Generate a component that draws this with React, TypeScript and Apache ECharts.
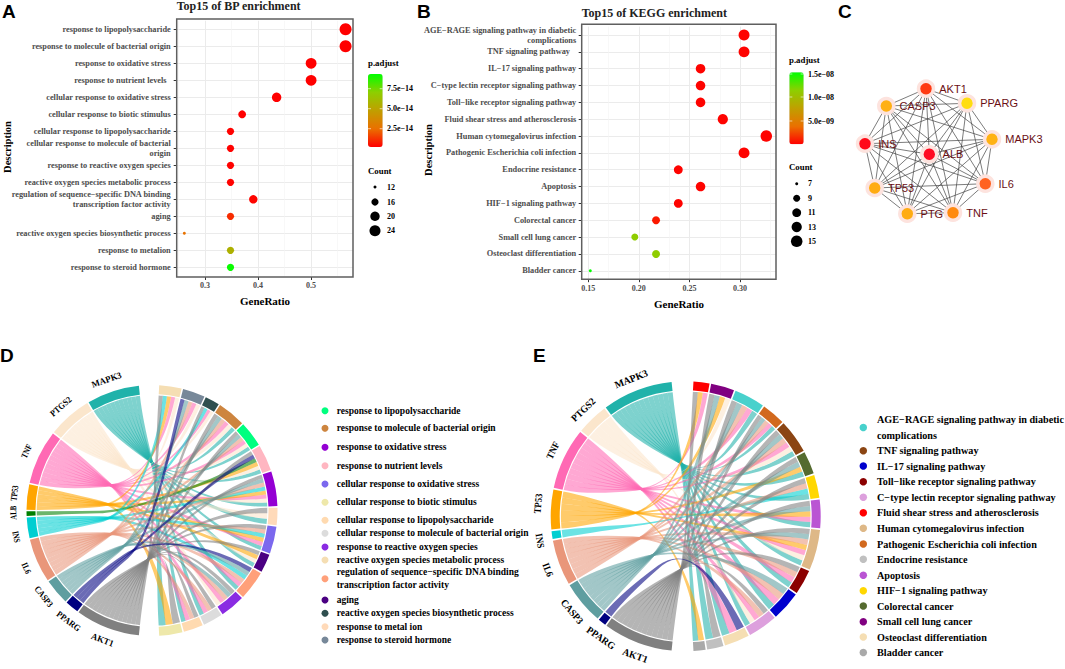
import React, { useEffect, useRef } from "react";
import * as echarts from "echarts";

const SERIF = '"Liberation Serif"';
const SANS = '"Liberation Sans"';

// ---------- Panel A ----------
const bpCategories = [
  "response to lipopolysaccharide",
  "response to molecule of bacterial origin",
  "response to oxidative stress",
  "response to nutrient levels  ",
  "cellular response to oxidative stress",
  "cellular response to biotic stimulus",
  "cellular response to lipopolysaccharide",
  "cellular response to molecule of bacterial\norigin",
  "response to reactive oxygen species",
  "reactive oxygen species metabolic process",
  "regulation of sequence\u2212specific DNA binding\ntranscription factor activity",
  "aging",
  "reactive oxygen species biosynthetic process",
  "response to metalion",
  "response to steroid hormone",
];
const bpRatio = [0.565, 0.565, 0.5, 0.5, 0.435, 0.37, 0.348, 0.348, 0.348, 0.348, 0.391, 0.348, 0.261, 0.348, 0.348];
const bpCount = [26, 26, 23, 23, 20, 17, 16, 16, 16, 16, 18, 16, 12, 16, 16];
const bpPadj = [0.2, 0.2, 0.2, 0.2, 0.2, 0.2, 0.25, 0.25, 0.25, 0.25, 0.3, 1.1, 2.6, 5.6, 9.2]; // ×1e-14

// ---------- Panel B ----------
const keggCategories = [
  "AGE\u2212RAGE signaling pathway in diabetic\ncomplications",
  "TNF signaling pathway   ",
  "IL\u221217 signaling pathway",
  "C\u2212type lectin receptor signaling pathway",
  "Toll\u2212like receptor signaling pathway",
  "Fluid shear stress and atherosclerosis",
  "Human cytomegalovirus infection",
  "Pathogenic Escherichia coli infection",
  "Endocrine resistance",
  "Apoptosis",
  "HIF\u22121 signaling pathway",
  "Colorectal cancer",
  "Small cell lung cancer",
  "Osteoclast differentiation",
  "Bladder cancer",
];
const keggRatio = [0.304, 0.304, 0.261, 0.261, 0.261, 0.283, 0.326, 0.304, 0.239, 0.261, 0.239, 0.217, 0.196, 0.217, 0.152];
const keggCount = [14, 14, 12, 12, 12, 13, 15, 14, 11, 12, 11, 10, 9, 10, 7];
const keggPadj = [0.05, 0.05, 0.05, 0.05, 0.05, 0.05, 0.05, 0.05, 0.05, 0.05, 0.05, 0.12, 1.15, 1.15, 1.53]; // ×1e-8

const bpColorTicks = ["7.5e\u221214", "5.0e\u221214", "2.5e\u221214"];
const keggColorTicks = ["1.5e\u221208", "1.0e\u221208", "5.0e\u221209"];
const bpCountLegend = [12, 16, 20, 24];
const keggCountLegend = [7, 9, 11, 13, 15];

// ---------- Panel C ----------
const ppiGenes = ["AKT1", "PPARG", "MAPK3", "IL6", "TNF", "PTG", "TP53", "INS", "CASP3", "ALB"];
const ppiColors = ["#ff3a12", "#ffdd10", "#ffb213", "#ff6220", "#ff8a10", "#ffac12", "#ffac12", "#ff0a18", "#ffb014", "#ff0a22"];
const ppiX = [926, 967, 992, 985.3, 953, 907.3, 874.7, 865, 886.3, 929.3];
const ppiY = [88.7, 103.3, 139.3, 183.7, 212.7, 213.7, 188, 143.7, 106, 154.3];

// ---------- Panel D ----------
const dGenes = ["AKT1", "PPARG", "CASP3", "IL6", "INS", "ALB", "TP53", "TNF", "PTGS2", "MAPK3"];
const dGeneShare = [30, 6.4, 12, 20.5, 9.6, 2.1, 11.8, 25.3, 20.5, 24.5];
const dLabelShift = [0, -2.7, 2, -1, -3, 0.5, 1, 0, 0, -1];
const geneColors: Record<string, string> = {
  AKT1: "#808080", PPARG: "#000080", CASP3: "#5f9ea0", IL6: "#e9967a", INS: "#00ced1",
  ALB: "#008000", TP53: "#ffa500", TNF: "#ff69b4", PTGS2: "#fbe6cc", MAPK3: "#20b2aa",
};
const dLegend = [
  "response to lipopolysaccharide",
  "response to molecule of bacterial origin",
  "response to oxidative stress",
  "response to nutrient levels",
  "cellular response to oxidative stress",
  "cellular response to biotic stimulus",
  "cellular response to lipopolysaccharide",
  "cellular response to molecule of bacterial origin",
  "response to reactive oxygen species",
  "reactive oxygen species metabolic process",
  "regulation of sequence\u2212specific DNA binding\ntranscription factor activity",
  "aging",
  "reactive oxygen species biosynthetic process",
  "response to metal ion",
  "response to steroid hormone",
];
const dLegendColors = ["#00ff7f", "#cd853f", "#9400d3", "#ffb6c1", "#7b68ee", "#eee8aa", "#ffdab0", "#dcdcdc", "#8a2be2", "#f5deb3", "#ffa07a", "#4b0082", "#2f4f4f", "#ffdab9", "#778899"];
const dLegendY = [410.7, 428.3, 447.3, 465.7, 484, 502.3, 520.3, 533.3, 547, 560, 578.7, 600, 613.3, 626.7, 640];
const dTermOrder = [9, 14, 12, 1, 0, 3, 2, 13, 4, 11, 10, 8, 7, 6, 5];
const dTermShare = [10.3, 10.3, 6.7, 13, 11.7, 12.1, 16, 8, 12.5, 8.5, 13.5, 11.5, 9, 9, 10.7];
const dTermGenes = [
  "AKT1 INS TP53 TNF PTGS2",
  "PPARG CASP3 IL6 TNF PTGS2",
  "AKT1 INS TNF PTGS2",
  "AKT1 CASP3 IL6 TNF PTGS2 MAPK3",
  "AKT1 CASP3 IL6 TNF PTGS2 MAPK3",
  "AKT1 PPARG ALB TP53 PTGS2 MAPK3",
  "AKT1 CASP3 IL6 INS TP53 TNF PTGS2 MAPK3",
  "AKT1 PTGS2 MAPK3",
  "AKT1 IL6 INS TP53 TNF MAPK3",
  "AKT1 TP53 PTGS2 MAPK3",
  "PPARG CASP3 INS IL6 TNF MAPK3",
  "AKT1 CASP3 IL6 TNF PTGS2",
  "AKT1 IL6 TNF MAPK3",
  "AKT1 IL6 TNF MAPK3",
  "AKT1 TP53 MAPK3",
];

// ---------- Panel E ----------
const eGenes = ["AKT1", "PPARG", "CASP3", "IL6", "INS", "TP53", "TNF", "PTGS2", "MAPK3"];
const eGeneShare = [30.6, 3.5, 19, 20, 3.5, 17.5, 27, 14, 31];
const eLabelShift = [-1, -3.5, 0, -1, -1.5, 2, 1, 0, -0.5];
const eLegend = [
  "AGE\u2212RAGE signaling pathway in diabetic\ncomplications",
  "TNF signaling pathway",
  "IL\u221217 signaling pathway",
  "Toll\u2212like receptor signaling pathway",
  "C\u2212type lectin receptor signaling pathway",
  "Fluid shear stress and atherosclerosis",
  "Human cytomegalovirus infection",
  "Pathogenic Escherichia coli infection",
  "Endocrine resistance",
  "Apoptosis",
  "HIF\u22121 signaling pathway",
  "Colorectal cancer",
  "Small cell lung cancer",
  "Osteoclast differentiation",
  "Bladder cancer",
];
const eLegendColors = ["#48d1cc", "#8b4513", "#0000cd", "#8b0000", "#dda0dd", "#ff0000", "#deb887", "#d2691e", "#c0c0c0", "#ba55d3", "#ffd700", "#556b2f", "#800080", "#f5deb3", "#a9a9a9"];
const eLegendY = [427.5, 450.7, 466, 481.7, 497.3, 512.7, 528.3, 544, 559.3, 575.3, 590.7, 606, 621.7, 637, 652.5];
const eTermOrder = [5, 12, 0, 7, 1, 11, 10, 9, 6, 3, 2, 4, 13, 8, 14];
const eTermShare = [7.3, 10.7, 14, 10.8, 15.4, 10.4, 10.6, 13, 18.5, 11.4, 13.5, 13.5, 11.5, 7.5, 5.5];
const eTermGenes = [
  "AKT1 TP53 TNF",
  "AKT1 CASP3 TP53 PTGS2",
  "AKT1 CASP3 IL6 TNF MAPK3",
  "AKT1 CASP3 IL6 TNF MAPK3",
  "AKT1 CASP3 IL6 TNF PTGS2 MAPK3",
  "AKT1 CASP3 TP53 MAPK3",
  "AKT1 IL6 INS MAPK3",
  "AKT1 CASP3 TP53 TNF MAPK3",
  "AKT1 CASP3 IL6 TP53 TNF PTGS2 MAPK3",
  "AKT1 IL6 TNF MAPK3",
  "CASP3 IL6 TNF MAPK3",
  "AKT1 IL6 TNF PTGS2 MAPK3",
  "PPARG TNF MAPK3",
  "AKT1 MAPK3",
  "TP53 MAPK3",
];

// ---------- helpers ----------
const RAD = Math.PI / 180;

function chordElements(cfg: {
  cx: number; cy: number; R: number; fontSize: number; squeeze: number; genes: string[]; geneShare: number[];
  labelShift: number[]; termColors: string[]; termShare: number[]; termGenes: string[];
}) {
  const { cx, cy, R, fontSize, squeeze, genes, geneShare, labelShift, termColors, termShare, termGenes } = cfg;
  const ringW = 9;
  const rRib = R - ringW - 1.2;
  const gap = 0.7;
  const layout = (shares: number[], from: number, to: number) => {
    const total = shares.reduce((a, b) => a + b, 0);
    const unit = (to - from - gap * (shares.length - 1)) / total;
    let cur = from;
    return shares.map((s) => {
      const r = [cur, cur + s * unit];
      cur += s * unit + gap;
      return r;
    });
  };
  const termSpan = layout(termShare, 3.3, 176.7);
  const geneSpan = layout(geneShare, 186, 354);
  const pt = (deg: number, r: number) => [r * Math.sin(deg * RAD), -r * Math.cos(deg * RAD)];
  const P = (p: number[]) => `${(p[0] + cx).toFixed(2)} ${(p[1] + cy).toFixed(2)}`;

  type L = { g: number; t: number; ti: number; tn: number; gi?: number; gn?: number };
  const links: L[] = [];
  termGenes.forEach((s, t) => {
    const names = s.split(" ");
    names.forEach((n, ti) => links.push({ g: genes.indexOf(n), t, ti, tn: names.length }));
  });
  genes.forEach((_, g) => {
    const own = links.filter((l) => l.g === g).sort((a, b) => a.t - b.t);
    own.forEach((l, i) => { l.gi = i; l.gn = own.length; });
  });

  const els: any[] = [];
  const order = links.slice().sort((a, b) => (b.g === 1 ? -1 : a.g === 1 ? 1 : b.g - a.g));
  order.forEach((l) => {
    const name = genes[l.g];
    const [gs, ge] = geneSpan[l.g];
    const [ts, te] = termSpan[l.t];
    const gw = (ge - gs) / l.gn!;
    const a1 = gs + gw * l.gi!;
    const a2 = a1 + gw;
    const tw = (te - ts) / l.tn;
    const b1 = ts + tw * l.ti;
    const b2 = b1 + tw;
    const mid = (gs + ge) / 2;
    const psi = Math.max(-88, Math.min(88, (mid - 270) * 1.2)) * RAD;
    const pinch = [-0.42 * R * Math.cos(psi), -0.42 * R * Math.sin(psi)];
    const perp = [Math.cos(mid * RAD), Math.sin(mid * RAD)];
    const offC = ((l.gi! + 0.5) / l.gn! - 0.5) * 5;
    const h = 1.25;
    const pAt = (sign: number) => [
      pinch[0] + perp[0] * (offC + sign * h),
      pinch[1] + perp[1] * (offC + sign * h),
    ];
    const A1 = pt(a1, rRib), A2 = pt(a2, rRib);
    const B1 = pt(b1, rRib), B2 = pt(b2, rRib);
    const C1 = [A1[0] * 0.8, A1[1] * 0.8], C2 = [A2[0] * 0.8, A2[1] * 0.8];
    const P1 = pAt(-1), P2 = pAt(1);
    const unit = (from: number[], to: number[]) => {
      const dx = to[0] - from[0], dy = to[1] - from[1];
      const n = Math.hypot(dx, dy) || 1;
      return [dx / n, dy / n];
    };
    const d = 0.28 * R;
    const D1 = unit(C1, P1), D2 = unit(C2, P2);
    const Q2 = [P2[0] + D2[0] * d, P2[1] + D2[1] * d];
    const Q1 = [P1[0] + D1[0] * d, P1[1] + D1[1] * d];
    const K1 = [B1[0] * 0.55, B1[1] * 0.55], K2 = [B2[0] * 0.55, B2[1] * 0.55];
    const path =
      `M ${P(A1)} A ${rRib} ${rRib} 0 0 1 ${P(A2)} ` +
      `Q ${P(C2)} ${P(P2)} C ${P(Q2)} ${P(K1)} ${P(B1)} ` +
      `A ${rRib} ${rRib} 0 0 1 ${P(B2)} ` +
      `C ${P(K2)} ${P(Q1)} ${P(P1)} Q ${P(C1)} ${P(A1)} Z`;
    els.push({ type: "path", shape: { pathData: path }, style: { fill: geneColors[name], opacity: 0.58 } });
  });

  const ring = (s: number, e: number, fill: string) => {
    const ro = R, ri = R - ringW;
    const path =
      `M ${P(pt(s, ro))} A ${ro} ${ro} 0 0 1 ${P(pt(e, ro))} ` +
      `L ${P(pt(e, ri))} A ${ri} ${ri} 0 0 0 ${P(pt(s, ri))} Z`;
    els.push({ type: "path", shape: { pathData: path }, style: { fill } });
  };
  termSpan.forEach(([s, e], i) => ring(s, e, termColors[i]));
  geneSpan.forEach(([s, e], i) => {
    ring(s, e, geneColors[genes[i]]);
    const m = (s + e) / 2 + labelShift[i];
    const p = pt(m, R + 13);
    const rot = m > 268 ? -m : -(m - 180);
    const sx = 1 - squeeze * Math.abs(Math.sin(rot * RAD)) ** 2;
    els.push({
      type: "text",
      x: cx + p[0],
      y: cy + p[1],
      rotation: rot * RAD,
      scaleX: sx,
      style: {
        text: genes[i], fill: "#000", fontFamily: SERIF, fontWeight: "bold", fontSize,
        align: "center", verticalAlign: "middle",
      },
    });
  });
  return els;
}

function chordSeries(els: any[]) {
  return {
    type: "custom",
    coordinateSystem: "none",
    silent: true,
    data: els.map((_, i) => [i]),
    renderItem: (_p: any, api: any) => els[api.value(0)],
  };
}

const label = (x: number, y: number, text: string, o: any = {}) => ({
  type: "text",
  x,
  y,
  rotation: o.rotation || 0,
  z: 50,
  silent: true,
  style: {
    text,
    fill: o.fill || "#000",
    fontFamily: o.family || SERIF,
    fontWeight: o.weight || "bold",
    fontSize: o.size || 9,
    lineHeight: o.lineHeight,
    align: o.align || "left",
    verticalAlign: "middle",
  },
});
const dot = (x: number, y: number, d: number, fill: string) => ({
  type: "circle", silent: true, z: 50, shape: { cx: x, cy: y, r: d / 2 }, style: { fill },
});
const frame = (x0: number, y0: number, x1: number, y1: number) => ({
  type: "rect", silent: true, z: 60,
  shape: { x: x0, y: y0, width: x1 - x0, height: y1 - y0 },
  style: { fill: "none", stroke: "#5f5f5f", lineWidth: 1.5 },
});
const tickMark = (x0: number, x1: number, y: number) => ({
  type: "line", silent: true, z: 55,
  shape: { x1: x0, y1: y, x2: x0 + 3, y2: y },
  style: { stroke: "#fff", lineWidth: 0.6 },
});

const sizeA = (c: number) => 3 + 9 * Math.pow((c - 12) / 14, 0.6);
const sizeB = (c: number) => 3 + 8.5 * Math.pow((c - 7) / 8, 0.55);
const gradient = ["#ff0000", "#ea7000", "#c09f00", "#8dcf00", "#00ff00"];

function dotPanel(i: number, cats: string[], xs: number[], counts: number[], padj: number[], sizeFn: (c: number) => number, major: number[], minor: number[]) {
  const guide = {
    type: "scatter", xAxisIndex: i, yAxisIndex: i, z: 1, silent: true, symbolSize: 0,
    data: cats.map((c, k) => [xs[k], c]),
    markLine: {
      silent: true, symbol: "none", animation: false, label: { show: false }, z: 1,
      data: [
        ...cats.map((c) => ({ yAxis: c, lineStyle: { color: "#ebebeb", width: 1, type: "solid" } })),
        ...major.map((v) => ({ xAxis: v, lineStyle: { color: "#ebebeb", width: 1, type: "solid" } })),
        ...minor.map((v) => ({ xAxis: v, lineStyle: { color: "#f3f3f3", width: 0.6, type: "solid" } })),
      ],
    },
  };
  const pts = {
    type: "scatter", xAxisIndex: i, yAxisIndex: i, z: 5, silent: true,
    itemStyle: { opacity: 1 },
    data: cats.map((c, k) => [xs[k], c, counts[k], padj[k]]),
    symbolSize: (v: any[]) => sizeFn(v[2]),
  };
  return [guide, pts];
}

export default function App() {
  const ref = useRef<HTMLDivElement>(null);
  useEffect(() => {
    document.body.style.margin = "0";
    const chart = echarts.init(ref.current!, null, { renderer: "svg" });

    const axisLabelY = { fontFamily: SERIF, fontWeight: "bold", fontSize: 8.3, color: "#4d4d4d", interval: 0, lineHeight: 10 };
    const axisLabelX = { fontFamily: SERIF, fontWeight: "bold", fontSize: 8, color: "#4d4d4d" };
    const yAxis = (i: number, data: string[], margin: number) => ({
      type: "category", gridIndex: i, inverse: true, data,
      axisLine: { show: false },
      axisTick: { show: true, length: 3, alignWithLabel: true, lineStyle: { color: "#333" } },
      splitLine: { show: false },
      axisLabel: { ...axisLabelY, margin },
    });
    const xAxis = (i: number, min: number, max: number, ticks: number[], dec: number, margin: number, offset: number) => ({
      type: "value", gridIndex: i, min, max, offset,
      axisLine: { show: false },
      axisTick: { show: true, length: 3, customValues: ticks, lineStyle: { color: "#333" } },
      splitLine: { show: false },
      axisLabel: { ...axisLabelX, margin, customValues: ticks, formatter: (v: number) => v.toFixed(dec) },
    });

    const xTicksA = [0.3, 0.4, 0.5];
    const xTicksB = [0.15, 0.2, 0.25, 0.3];

    const dEls = chordElements({
      cx: 152, cy: 510.5, R: 125.5, fontSize: 9, squeeze: 0.24, genes: dGenes, geneShare: dGeneShare, labelShift: dLabelShift,
      termColors: dTermOrder.map((k) => dLegendColors[k]), termShare: dTermShare, termGenes: dTermGenes,
    });
    const eEls = chordElements({
      cx: 685.7, cy: 516.3, R: 135, fontSize: 10, squeeze: 0.12, genes: eGenes, geneShare: eGeneShare, labelShift: eLabelShift,
      termColors: eTermOrder.map((k) => eLegendColors[k]), termShare: eTermShare, termGenes: eTermGenes,
    });

    const nodes = ppiGenes.map((name, i) => ({
      name, x: ppiX[i], y: ppiY[i],
      itemStyle: { color: ppiColors[i] },
    }));
    const edges: any[] = [];
    ppiGenes.forEach((a, i) => ppiGenes.slice(i + 1).forEach((b) => edges.push({ source: a, target: b })));

    const graphic: any[] = [
      label(2, 11, "A", { family: SANS, size: 19 }),
      label(417, 11, "B", { family: SANS, size: 19 }),
      label(838, 11, "C", { family: SANS, size: 19 }),
      label(0, 355, "D", { family: SANS, size: 19 }),
      label(533, 355, "E", { family: SANS, size: 19 }),

      label(176.7, 6, "Top15 of BP enrichment", { size: 12, fill: "#222" }),
      label(581.7, 12.7, "Top15 of KEGG enrichment", { size: 12, fill: "#222" }),
      frame(176.7, 19, 353, 277),
      frame(581.7, 24.3, 776, 279.3),
      label(265, 301, "GeneRatio", { size: 11, align: "center" }),
      label(679, 304, "GeneRatio", { size: 11, align: "center" }),
      label(7, 147, "Description", { size: 10.5, align: "center", rotation: Math.PI / 2 }),
      label(428, 150, "Description", { size: 10.5, align: "center", rotation: Math.PI / 2 }),

      label(368, 63, "p.adjust", { size: 8.8 }),
      label(368, 171, "Count", { size: 8.8 }),
      label(789, 60, "p.adjust", { size: 8.8 }),
      label(789, 167, "Count", { size: 8.8 }),
      ...bpColorTicks.map((t, i) => label(387, [88.7, 108.7, 128.7][i], t, { size: 8 })),
      ...[88.7, 108.7, 128.7].flatMap((y) => [tickMark(368, 371, y), tickMark(379.7, 382.7, y)]),
      ...keggColorTicks.map((t, i) => label(808, [74, 97, 121][i], t, { size: 8 })),
      ...[74, 97, 121].flatMap((y) => [tickMark(789.3, 792.3, y), tickMark(800.7, 803.7, y)]),
      ...bpCountLegend.map((c, i) => dot(375, [187, 202, 216.3, 230.7][i], [3, 7.2, 9.4, 11][i], "#000")),
      ...bpCountLegend.map((c, i) => label(387, [187, 202, 216.3, 230.7][i], String(c), { size: 8 })),
      ...keggCountLegend.map((c, i) => dot(796.7, [183.7, 198.3, 212.7, 227, 241.3][i], sizeB(c), "#000")),
      ...keggCountLegend.map((c, i) => label(808, [183.7, 198.3, 212.7, 227, 241.3][i], String(c), { size: 8 })),

      ...dLegend.map((t, i) => dot(325, dLegendY[i], 7, dLegendColors[i])),
      ...dLegend.map((t, i) => label(336.7, dLegendY[i], t, { size: 9.5, lineHeight: 13.3 })),
      ...eLegend.map((t, i) => dot(863.3, eLegendY[i], 7.5, eLegendColors[i])),
      ...eLegend.map((t, i) => label(877, eLegendY[i], t, { size: 10.2, lineHeight: 15.7 })),
    ];

    chart.setOption({
      animation: false,
      backgroundColor: "#fff",
      tooltip: { show: false },
      grid: [
        { left: 176.7, top: 20.8, width: 176.3, height: 255, containLabel: false },
        { left: 581.7, top: 26.6, width: 194.3, height: 252.6, containLabel: false },
      ],
      xAxis: [
        xAxis(0, 0.2466, 0.579, xTicksA, 1, 4, 1.2),
        xAxis(1, 0.1435, 0.3356, xTicksB, 2, 5, 0),
      ],
      yAxis: [yAxis(0, bpCategories, 6), yAxis(1, keggCategories, 5.5)],
      visualMap: [
        {
          type: "continuous", seriesIndex: 1, dimension: 3, min: 0.2, max: 9.34, calculable: false,
          left: 368, top: 74, itemWidth: 14.7, itemHeight: 73, padding: 0, text: null, hoverLink: false, realtime: false,
          inRange: { color: gradient },
        },
        {
          type: "continuous", seriesIndex: 3, dimension: 3, min: 0.04, max: 1.536, calculable: false,
          left: 789.3, top: 72.3, itemWidth: 14.4, itemHeight: 72, padding: 0, text: null, hoverLink: false, realtime: false,
          inRange: { color: gradient },
        },
      ],
      series: [
        ...dotPanel(0, bpCategories, bpRatio, bpCount, bpPadj, sizeA, xTicksA, [0.25, 0.35, 0.45, 0.55]),
        ...dotPanel(1, keggCategories, keggRatio, keggCount, keggPadj, sizeB, xTicksB, [0.175, 0.225, 0.275, 0.325]),
        {
          type: "graph", layout: "none", left: 865, top: 88.7, width: 127, height: 125,
          silent: true, symbolSize: 15,
          itemStyle: { borderColor: "#fde3de", borderWidth: 3.5 },
          lineStyle: { color: "#444", width: 0.7, opacity: 1 },
          label: { show: true, position: "right", distance: 4, color: "#6b0f14", fontFamily: SANS, fontSize: 11 },
          data: nodes,
          edges,
        },
        chordSeries(dEls),
        chordSeries(eEls),
      ],
      graphic: { elements: graphic },
    });
    return () => chart.dispose();
  }, []);
  return <div ref={ref} style={{ position: "absolute", left: 0, top: 0, width: 1065, height: 669 }} />;
}
